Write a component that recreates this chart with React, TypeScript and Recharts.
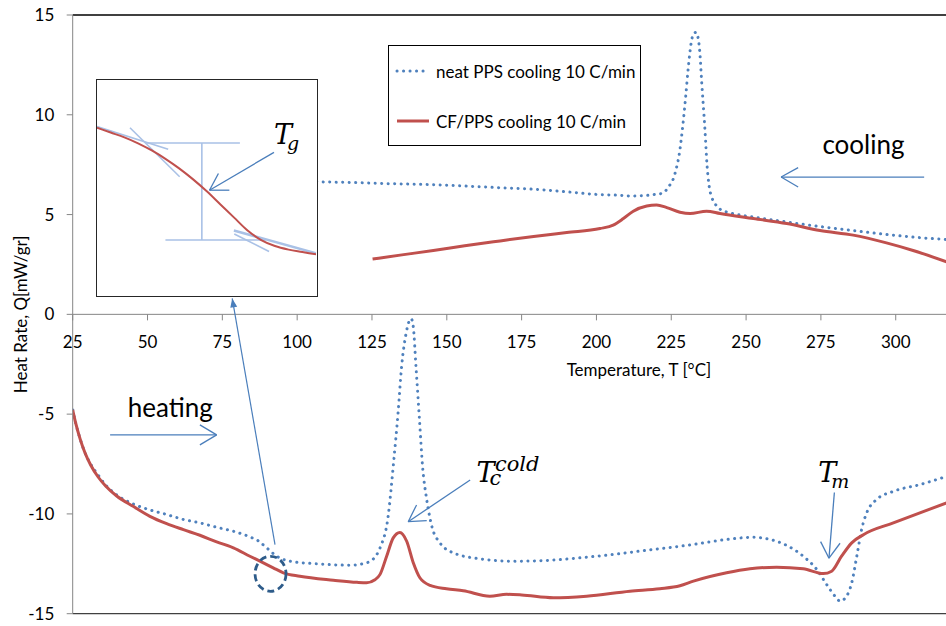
import {
  Legend,
  Line,
  LineChart,
  ReferenceDot,
  ReferenceLine,
  XAxis,
  YAxis,
} from "recharts";

// heating run (lower curves)
const heatNeatT = [
  25, 26, 27.5, 29, 31, 33.5, 36, 39.7, 45.2, 50.8, 56.4, 62.0, 67.5, 73.1, 78.7, 84.2, 87, 89.8,
  93.2, 97.6, 106.5, 117.6, 123.2, 125.5, 127.7, 130.4, 132.1, 133.8, 134.9, 136.4, 137.4, 138.1,
  138.8, 139.7, 140.8, 141.9, 143.3, 145.0, 147.7, 152.2, 161.1, 172.2, 183.4, 194.5, 205.6,
  216.8, 227.9, 232.4, 243.5, 252.4, 258.0, 263.6, 269.1, 273.6, 276.9, 279.7, 281.4, 283.6,
  285.3, 287.0, 288.6, 290.3, 293.6, 299.2, 308.1, 317,
];
const heatNeatQ = [
  -4.79, -5.45, -6.25, -6.9, -7.5, -8.05, -8.55, -9.05, -9.5, -9.8, -10.03, -10.28, -10.45,
  -10.67, -10.87, -11.15, -11.35, -11.7, -12.12, -12.37, -12.5, -12.57, -12.45, -12.25, -11.7,
  -10.12, -7.62, -4.78, -2.62, -0.95, -0.35, -0.22, -0.62, -2.62, -5.12, -7.62, -9.29, -10.62,
  -11.45, -11.95, -12.25, -12.37, -12.33, -12.2, -12.03, -11.82, -11.62, -11.53, -11.28, -11.17,
  -11.28, -11.58, -12.12, -12.78, -13.53, -14.12, -14.37, -14.12, -13.45, -12.12, -10.78, -9.95,
  -9.28, -8.87, -8.53, -8.12,
];
const heatCfT = [
  25, 26, 27.5, 29, 31, 33.5, 36, 39.7, 45.2, 50.8, 56.4, 62.0, 67.5, 73.1, 78.7, 84.2, 88.7,
  92.0, 95.4, 100.9, 112.1, 120, 123.2, 126, 127.7, 129.9, 132.1, 134.3, 136.6, 138.8, 141.0,
  144.4, 149.9, 155.5, 164.4, 170, 175, 185.6, 196.7, 211.2, 221.2, 227.9, 232.4, 243.5, 251.3,
  260.2, 269.1, 275.8, 278.6, 281.9, 285.3, 289.2, 299.2, 310.3, 317,
];
const heatCfQ = [
  -4.79, -5.45, -6.25, -6.9, -7.55, -8.15, -8.6, -9.1, -9.62, -10.12, -10.49, -10.79, -11.07,
  -11.4, -11.7, -12.12, -12.45, -12.7, -12.95, -13.12, -13.32, -13.43, -13.45, -13.3, -13.03,
  -12.12, -11.2, -10.93, -11.37, -12.45, -13.2, -13.58, -13.75, -13.85, -14.12, -14.03, -14.06,
  -14.2, -14.12, -13.87, -13.75, -13.6, -13.37, -12.95, -12.75, -12.67, -12.75, -12.99, -12.87,
  -12.12, -11.45, -11.04, -10.45, -9.82, -9.45,
];

// cooling run (upper curves)
const coolNeatT = [
  100, 110, 120, 130, 140, 150, 160, 170, 180, 190, 200, 207, 212, 216, 219, 222.3, 224, 225.7,
  226.8, 227.7, 228.8, 229.8, 230.7, 231.6, 232.4, 233.3, 233.9, 234.5, 235.2, 236.2, 237.0,
  237.7, 238.5, 239.6, 241.3, 243.5, 248, 255, 263.5, 274.7, 285.7, 299, 310, 317,
];
const coolNeatQ = [
  6.66, 6.63, 6.6, 6.55, 6.52, 6.47, 6.4, 6.33, 6.26, 6.14, 6.01, 5.97, 5.93, 5.95, 6.0, 6.08,
  6.38, 6.8, 7.38, 8.05, 9.38, 10.88, 12.38, 13.55, 14.05, 14.13, 13.9, 13.2, 11.55, 9.38, 7.38,
  6.38, 5.88, 5.55, 5.27, 5.13, 4.98, 4.82, 4.63, 4.4, 4.2, 3.97, 3.82, 3.75,
];
const coolCfT = [
  125.2, 135, 145.5, 156, 167.8, 179, 190.1, 201.2, 205.6, 209.0, 212.3, 216.8, 220.1, 223.5,
  227.9, 231.3, 236.8, 241.3, 252.4, 263.6, 274.7, 285.8, 296.9, 305.8, 317,
];
const coolCfQ = [
  2.77, 2.98, 3.2, 3.44, 3.68, 3.9, 4.1, 4.3, 4.47, 4.8, 5.17, 5.43, 5.48, 5.35, 5.12, 5.05, 5.17,
  5.05, 4.8, 4.55, 4.2, 3.97, 3.58, 3.2, 2.63,
];

// zoomed Tg step for the inset
const insetT = [84, 85, 86, 87, 88, 89, 90, 91, 92, 93, 94, 95, 96, 97, 98, 99, 100];
const insetQ = [
  -12.0, -12.04, -12.08, -12.13, -12.19, -12.26, -12.34, -12.43, -12.53, -12.64, -12.75, -12.86,
  -12.94, -12.99, -13.02, -13.04, -13.06,
];

const xTicks = [25, 50, 75, 100, 125, 150, 175, 200, 225, 250, 275, 300];
const yTicks = [-15, -10, -5, 0, 5, 10, 15];
const legendOrder = ["neat PPS cooling 10 C/min", "CF/PPS cooling 10 C/min"];

const BLUE = "#4F81BD";
const RED = "#C0504D";
const ARROW = "#4A7EBB";
const PALE = "#A9C1E6";
const GRID = "#868686";
const SANS = "Lato, 'Open Sans', sans-serif";
const MATH = "'DejaVu Serif', serif";

const W = 946;
const H = 626;
const TOP = 15;
const BOTTOM = 12.3;
const HALF = (H - TOP - BOTTOM) / 2;

const pts = (t: number[], q: number[]) => t.map((x, i) => ({ t: x, q: q[i] }));

type P = [number, number];
const arrows: { from: P; to: P; head: P[] }[] = [
  { from: [37.5, -6.04], to: [73.1, -6.04], head: [[67.5, -5.54], [67.5, -6.54]] },
  { from: [309.5, 6.88], to: [261.7, 6.88], head: [[267.4, 7.35], [267.4, 6.38]] },
  { from: [157.8, -8.3], to: [137.1, -10.39], head: [[139.9, -9.55], [143.3, -10.34]] },
  { from: [279.5, -8.93], to: [277.7, -12.22], head: [[274.9, -11.39], [281.4, -11.47]] },
];

const seg = (a: P, b: P) => [
  { x: a[0], y: a[1] },
  { x: b[0], y: b[1] },
];

const XTick = ({ x, y, payload }: any) => {
  const y0 = y - HALF;
  return (
    <g>
      <line x1={x} x2={x} y1={y0} y2={y0 + 6} stroke={GRID} />
      <text x={x} y={y0 + 33.4} textAnchor="middle" fontFamily={SANS} fontSize={17} fill="#000">
        {payload.value}
      </text>
    </g>
  );
};

const YTitle = ({ viewBox }: any) => {
  const cx = viewBox.x + 7.5;
  const cy = viewBox.y + viewBox.height / 2;
  return (
    <text
      x={cx}
      y={cy}
      transform={`rotate(-90 ${cx} ${cy})`}
      textAnchor="middle"
      dominantBaseline="central"
      fontFamily={SANS}
      fontSize={17}
      fill="#000"
    >
      Heat Rate, Q[mW/gr]
    </text>
  );
};

const LegendBox = ({ payload }: any) => {
  const items = legendOrder
    .map((name) => (payload || []).find((e: any) => e.value === name))
    .filter(Boolean);
  return (
    <div
      style={{
        position: "relative",
        width: 253,
        height: 101,
        border: "1.3px solid #000",
        boxSizing: "border-box",
        background: "#fff",
        fontFamily: SANS,
        fontSize: 17,
        color: "#000",
      }}
    >
      {items.map((e: any, i: number) => {
        const dotted = String(e.value).startsWith("neat");
        return (
          <div
            key={e.value}
            style={{ position: "absolute", left: 6, top: 13 + i * 50, height: 24, display: "flex", alignItems: "center" }}
          >
            <svg width={36} height={8}>
              <line
                x1={2}
                x2={34}
                y1={4}
                y2={4}
                stroke={dotted ? BLUE : RED}
                strokeWidth={3}
                strokeDasharray={dotted ? "0.1 6.4" : undefined}
                strokeLinecap={dotted ? "round" : "butt"}
              />
            </svg>
            <span style={{ marginLeft: 5, whiteSpace: "nowrap" }}>{e.value}</span>
          </div>
        );
      })}
    </div>
  );
};

const Word = (text: string, size: number) => (p: any) =>
  (
    <text x={p.cx} y={p.cy} fontFamily={SANS} fontSize={size} fill="#000">
      {text}
    </text>
  );

// T with subscript (and optional superscript), one text element
const Symbol = (sub: string, sup?: string) => (p: any) =>
  (
    <text fontFamily={MATH} fontStyle="italic" fill="#000">
      <tspan x={p.cx} y={p.cy} fontSize={27}>
        T
      </tspan>
      <tspan x={p.cx + 13} y={p.cy + (sup ? 3 : 6)} fontSize={sup ? 21 : 19}>
        {sub}
      </tspan>
      {sup && (
        <tspan x={p.cx + 18.5} y={p.cy - 11} fontSize={21}>
          {sup}
        </tspan>
      )}
    </text>
  );

const Inset = () => (
  <div
    style={{
      position: "absolute",
      left: 96,
      top: 79,
      width: 222,
      height: 218,
      border: "1.5px solid #262626",
      boxSizing: "border-box",
      background: "#fff",
    }}
  >
    <LineChart width={219} height={215} data={pts(insetT, insetQ)} margin={{ top: 0, right: 0, bottom: 0, left: 0 }}>
      <XAxis type="number" dataKey="t" domain={[84, 100]} hide />
      <YAxis type="number" domain={[-13.4, -11.6]} hide />
      <ReferenceLine segment={seg([84, -11.99], [89.2, -12.18])} stroke={PALE} strokeWidth={1.6} />
      <ReferenceLine segment={seg([86.41, -12.0], [90.04, -12.41])} stroke={PALE} strokeWidth={1.6} />
      <ReferenceLine segment={seg([87.63, -12.128], [94.44, -12.128])} stroke={PALE} strokeWidth={1.6} />
      <ReferenceLine segment={seg([89.0, -12.939], [96.33, -12.939])} stroke={PALE} strokeWidth={1.6} />
      <ReferenceLine segment={seg([91.66, -12.128], [91.66, -12.939])} stroke={PALE} strokeWidth={1.6} />
      <ReferenceLine segment={seg([94.03, -12.89], [96.57, -13.036])} stroke={PALE} strokeWidth={1.6} />
      <ReferenceLine segment={seg([94.0, -12.86], [100, -13.05])} stroke={PALE} strokeWidth={2.5} />
      <Line
        dataKey="q"
        type="monotone"
        stroke={RED}
        strokeWidth={2}
        dot={false}
        activeDot={false}
        isAnimationActive={false}
      />
      <ReferenceLine segment={seg([96.93, -12.206], [92.22, -12.5225])} stroke={ARROW} strokeWidth={1.3} />
      <ReferenceLine segment={seg([92.22, -12.5225], [92.87, -12.383])} stroke={ARROW} strokeWidth={1.3} />
      <ReferenceLine segment={seg([92.22, -12.5225], [93.67, -12.5225])} stroke={ARROW} strokeWidth={1.3} />
      <ReferenceDot x={96.93} y={-12.133} r={0} shape={Symbol("g")} />
    </LineChart>
  </div>
);

const PointerHead = (p: any) => {
  const ux = 0.1705;
  const uy = 0.9853;
  const bx = p.cx + ux * 9;
  const by = p.cy + uy * 9;
  return (
    <polygon
      points={`${p.cx},${p.cy} ${bx + uy * 3.5},${by - ux * 3.5} ${bx - uy * 3.5},${by + ux * 3.5}`}
      fill={ARROW}
    />
  );
};

const Ring = (p: any) => (
  <ellipse
    cx={p.cx}
    cy={p.cy}
    rx={15.5}
    ry={17.5}
    fill="none"
    stroke="#2E5C8A"
    strokeWidth={2.8}
    strokeDasharray="7 4"
  />
);

const App = () => {
  const dotted = { stroke: BLUE, strokeWidth: 3, strokeDasharray: "0.1 6.4", strokeLinecap: "round" as const };
  const solid = { stroke: RED, strokeWidth: 3 };
  return (
    <div style={{ position: "absolute", left: 0, top: 0, width: W, height: H, overflow: "hidden", background: "#fff" }}>
      <LineChart width={W} height={H} margin={{ top: TOP, right: 0, bottom: BOTTOM - 1, left: 12.7 }}>
        <XAxis
          type="number"
          dataKey="t"
          domain={[25, 316.8]}
          ticks={xTicks}
          allowDataOverflow
          height={1}
          tickSize={0}
          tickMargin={0}
          tickLine={false}
          axisLine={{ stroke: "#404040", strokeWidth: 1.3 }}
          tick={(p: any) => <XTick {...p} />}
          interval={0}
        />
        <YAxis
          type="number"
          domain={[-15, 15]}
          ticks={yTicks}
          width={60}
          interval={0}
          axisLine={{ stroke: GRID }}
          tickLine={{ stroke: GRID }}
          tickSize={6}
          tickMargin={12.4}
          tick={{ fill: "#000", fontSize: 17, fontFamily: SANS }}
          label={(props: any) => <YTitle {...props} />}
        />
        <ReferenceLine y={15} stroke="#000" strokeWidth={1.3} />
        <ReferenceLine y={0} stroke={GRID} />

        <Line data={pts(heatNeatT, heatNeatQ)} dataKey="q" name="neat PPS heating" legendType="none"
          type="monotone" dot={false} activeDot={false} isAnimationActive={false} {...dotted} />
        <Line data={pts(heatCfT, heatCfQ)} dataKey="q" name="CF/PPS heating" legendType="none"
          type="monotone" dot={false} activeDot={false} isAnimationActive={false} {...solid} />
        <Line data={pts(coolNeatT, coolNeatQ)} dataKey="q" name="neat PPS cooling 10 C/min"
          type="monotone" dot={false} activeDot={false} isAnimationActive={false} {...dotted} />
        <Line data={pts(coolCfT, coolCfQ)} dataKey="q" name="CF/PPS cooling 10 C/min"
          type="monotone" dot={false} activeDot={false} isAnimationActive={false} {...solid} />

        {arrows.map((a, i) => [
          <ReferenceLine key={`a${i}`} segment={seg(a.from, a.to)} stroke={ARROW} strokeWidth={1.3} />,
          ...a.head.map((h, j) => (
            <ReferenceLine key={`h${i}${j}`} segment={seg(a.to, h)} stroke={ARROW} strokeWidth={1.3} />
          )),
        ])}
        <ReferenceLine segment={seg([92.6, -11.54], [78.3, 0.8])} stroke={ARROW} strokeWidth={1.2} />
        <ReferenceDot x={78.3} y={0.8} r={0} shape={PointerHead} />
        <ReferenceDot x={91.1} y={-13.0} r={0} shape={Ring} />

        <ReferenceDot x={43.4} y={-5.13} r={0} shape={Word("heating", 26)} />
        <ReferenceDot x={275.5} y={8.04} r={0} shape={Word("cooling", 26)} />
        <ReferenceDot x={159.9} y={-8.38} r={0} shape={Symbol("c", "cold")} />
        <ReferenceDot x={274.1} y={-8.4} r={0} shape={Symbol("m")} />
        <ReferenceDot
          x={214.2}
          y={-3.09}
          r={0}
          shape={(p: any) => (
            <text x={p.cx} y={p.cy} textAnchor="middle" fontFamily={SANS} fontSize={17} fill="#000">
              Temperature, T [°C]
            </text>
          )}
        />

        <Legend
          layout="vertical"
          align="center"
          verticalAlign="middle"
          content={<LegendBox />}
          wrapperStyle={{ left: 388, top: 45, width: 253, height: 101 }}
        />
      </LineChart>
      <Inset />
    </div>
  );
};

export default App;
